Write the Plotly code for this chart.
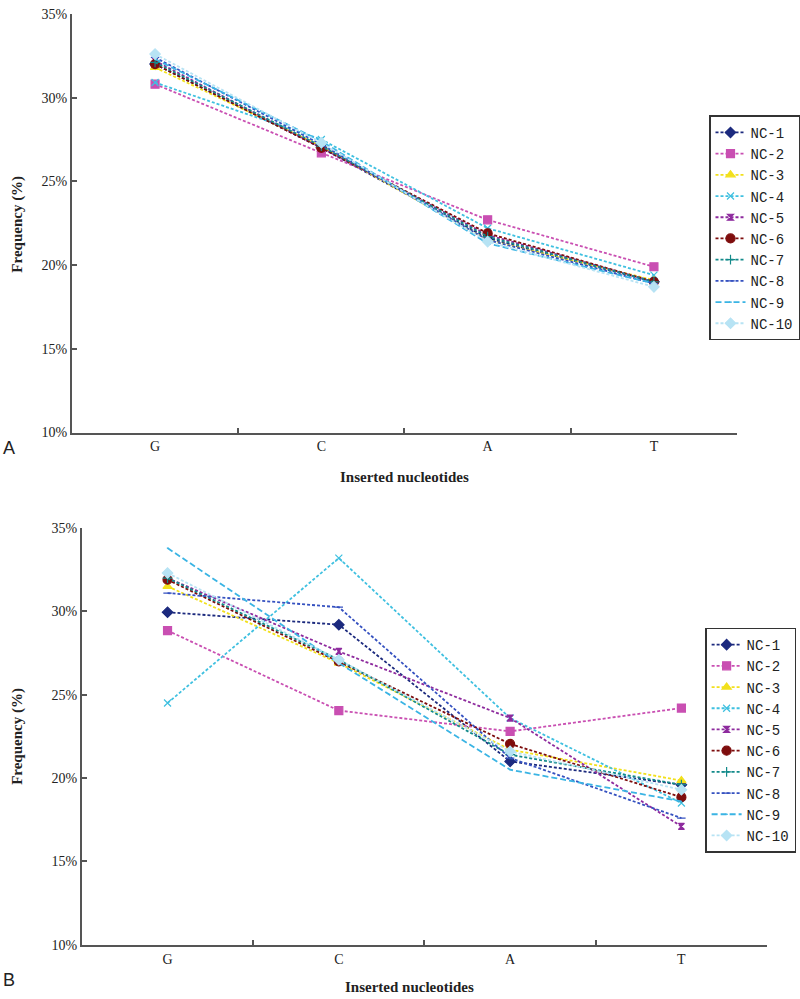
import plotly.graph_objects as go

categories = ["G", "C", "A", "T"]
series_names = ["NC-1", "NC-2", "NC-3", "NC-4", "NC-5", "NC-6", "NC-7", "NC-8", "NC-9", "NC-10"]

# Panel A values (%)
a_nc1 = [32.0, 27.0, 21.6, 19.0]
a_nc2 = [30.8, 26.7, 22.7, 19.9]
a_nc3 = [31.8, 27.1, 21.5, 19.1]
a_nc4 = [30.9, 27.5, 22.2, 19.4]
a_nc5 = [32.2, 27.0, 21.8, 19.0]
a_nc6 = [32.0, 27.0, 21.9, 19.0]
a_nc7 = [32.1, 27.1, 21.7, 19.0]
a_nc8 = [32.4, 27.2, 21.5, 18.9]
a_nc9 = [32.3, 27.4, 21.3, 18.9]
a_nc10 = [32.6, 27.3, 21.4, 18.7]

# Panel B values (%)
b_nc1 = [29.95, 29.2, 21.0, 19.6]
b_nc2 = [28.85, 24.05, 22.8, 24.2]
b_nc3 = [31.5, 26.9, 21.7, 19.85]
b_nc4 = [24.5, 33.2, 23.6, 18.5]
b_nc5 = [32.0, 27.6, 23.6, 17.1]
b_nc6 = [31.9, 27.0, 22.05, 18.85]
b_nc7 = [32.0, 27.1, 21.4, 19.6]
b_nc8 = [31.1, 30.25, 21.2, 17.6]
b_nc9 = [33.8, 26.9, 20.5, 18.6]
b_nc10 = [32.3, 27.1, 21.6, 19.3]

y_ticks = [10, 15, 20, 25, 30, 35]
y_tick_labels = ["10%", "15%", "20%", "25%", "30%", "35%"]

panel_a = [a_nc1, a_nc2, a_nc3, a_nc4, a_nc5, a_nc6, a_nc7, a_nc8, a_nc9, a_nc10]
panel_b = [b_nc1, b_nc2, b_nc3, b_nc4, b_nc5, b_nc6, b_nc7, b_nc8, b_nc9, b_nc10]

styles = [
    dict(color="#1c2a7e", symbol="diamond", size=8, dash="3px,2px"),
    dict(color="#c94fb2", symbol="square", size=8, dash="3px,2px"),
    dict(color="#f2e01c", symbol="triangle-up", size=8, dash="3px,2px"),
    dict(color="#3fc0e0", symbol="x-thin", size=7, dash="3px,2px"),
    dict(color="#8e2b9e", symbol="hourglass", size=6, dash="3px,2px"),
    dict(color="#7e0d0d", symbol="circle", size=9, dash="3px,2px"),
    dict(color="#138a8a", symbol="cross-thin", size=7, dash="3px,2px"),
    dict(color="#3551c0", symbol="line-ew", size=6, dash="3px,2px"),
    dict(color="#3ab4e4", symbol="line-ew", size=1, dash="6px,3px"),
    dict(color="#b7e3f4", symbol="diamond", size=8, dash="3px,2px"),
]

W, H = 800, 999

def px_x(v):
    return v / W

def px_y(v):
    return 1 - v / H

fig = go.Figure()

for panel, xa, ya, lg in [(panel_a, "x", "y", "legend"), (panel_b, "x2", "y2", "legend2")]:
    for name, vals, st in zip(series_names, panel, styles):
        fig.add_trace(go.Scatter(
            x=categories, y=vals, name=name, mode="lines+markers",
            xaxis=xa, yaxis=ya, legend=lg,
            line=dict(color=st["color"], width=1.8, dash=st["dash"]),
            marker=dict(color=st["color"], symbol=st["symbol"], size=st["size"],
                        line=dict(color=st["color"], width=1.2)),
        ))

tick_font = dict(family="Liberation Serif, DejaVu Serif, serif", size=14, color="#222")
axis_common = dict(showline=True, linecolor="#555", linewidth=2, showgrid=False,
                   zeroline=False, ticks="inside", ticklen=5, tickcolor="#555",
                   tickwidth=1.5, tickfont=tick_font, mirror=False)

fig.update_layout(
    width=W, height=H, margin=dict(l=0, r=0, t=0, b=0),
    paper_bgcolor="white", plot_bgcolor="white",
    showlegend=True,
    xaxis=dict(domain=[px_x(72), px_x(738)], anchor="y", type="category",
               categoryorder="array", categoryarray=categories,
               range=[-0.5, 3.5], tickson="boundaries", **axis_common),
    yaxis=dict(domain=[px_y(432), px_y(7)], anchor="x", range=[10, 35],
               tickvals=y_ticks, ticktext=y_tick_labels, **axis_common),
    xaxis2=dict(domain=[px_x(82), px_x(768)], anchor="y2", type="category",
                categoryorder="array", categoryarray=categories,
                range=[-0.5, 3.5], tickson="boundaries", **axis_common),
    yaxis2=dict(domain=[px_y(952), px_y(529)], anchor="x2", range=[10, 35],
                tickvals=y_ticks, ticktext=y_tick_labels, **axis_common),
    legend=dict(x=px_x(710), y=px_y(110), xanchor="left", yanchor="top",
                bordercolor="#333", borderwidth=1.5, bgcolor="white",
                font=dict(family="Liberation Mono, DejaVu Sans Mono, monospace", size=14, color="#222"),
                tracegroupgap=0, itemwidth=30),
    legend2=dict(x=px_x(706), y=px_y(630), xanchor="left", yanchor="top",
                 bordercolor="#333", borderwidth=1.5, bgcolor="white",
                 font=dict(family="Liberation Mono, DejaVu Sans Mono, monospace", size=14, color="#222"),
                 tracegroupgap=0, itemwidth=30),
)

title_font = dict(family="Liberation Serif, DejaVu Serif, serif", size=15, color="#222")
annots = [
    dict(text="<b>Frequency (%)</b>", x=px_x(18), y=px_y(220), textangle=-90, font=title_font),
    dict(text="<b>Frequency (%)</b>", x=px_x(18), y=px_y(740), textangle=-90, font=title_font),
    dict(text="<b>Inserted nucleotides</b>", x=px_x(405), y=px_y(477), font=title_font),
    dict(text="<b>Inserted nucleotides</b>", x=px_x(410), y=px_y(995), font=title_font),
    dict(text="A", x=px_x(9), y=px_y(448), font=dict(family="Liberation Sans, Arial, sans-serif", size=18, color="#222")),
    dict(text="B", x=px_x(9), y=px_y(988), font=dict(family="Liberation Sans, Arial, sans-serif", size=18, color="#222")),
]
for a in annots:
    fig.add_annotation(xref="paper", yref="paper", showarrow=False, xanchor="center", yanchor="middle", **a)

fig.write_html("out.html", config={"displayModeBar": False},
               post_script="document.body.style.margin='0';document.body.style.overflow='hidden';")
